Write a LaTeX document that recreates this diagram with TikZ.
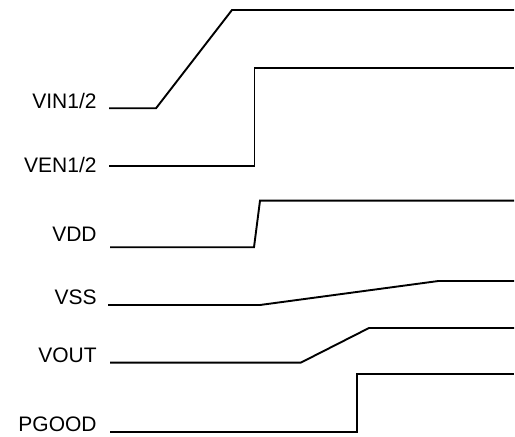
\documentclass[tikz,border=0pt]{standalone}
\usepackage{fontspec}
\setmainfont{Liberation Sans}

\begin{document}
\begin{tikzpicture}[
  x=0.5pt, y=-0.5pt,
  every node/.style={font=\fontsize{10.5}{12}\selectfont},
  lbl/.style={anchor=base east, inner sep=0pt},
  wave/.style={line width=0.95pt, line join=miter},
]

\useasboundingbox (0,0) rectangle (515,437);

\node[lbl] (vin) at (97,109) {VIN1/2};
\node[lbl] (ven) at (97,172.5) {VEN1/2};
\node[lbl] (vdd) at (97,242) {VDD};
\node[lbl] (vss) at (97,305) {VSS};
\node[lbl] (vout) at (97,362.3) {VOUT};
\node[lbl] (pgood) at (97,431.5) {PGOOD};

\draw[wave] (109,108.3) -- (156,108.3) -- (232,10) -- (514,10);
\draw[wave] (109,165.7) -- (254.5,165.7) -- (254.5,68.3) -- (514,68.3);
\draw[wave] (110,247.3) -- (254,247.3) -- (260,200.7) -- (514,200.7);
\draw[wave] (108,305) -- (260,305) -- (438.5,281) -- (514,281);
\draw[wave] (110,362.7) -- (300.7,362.7) -- (369,328) -- (514,328);
\draw[wave] (110,431.7) -- (357.3,431.7) -- (357.3,374) -- (514,374);

\end{tikzpicture}
\end{document}
